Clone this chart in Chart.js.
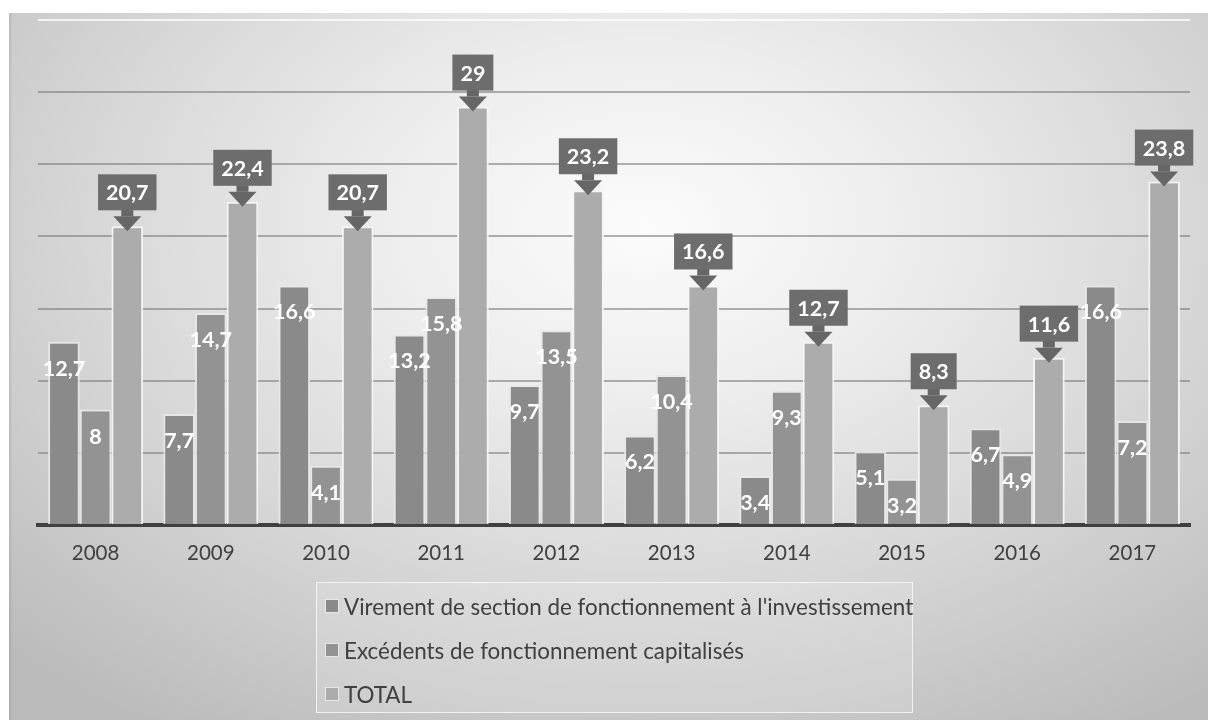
<!DOCTYPE html>
<html lang="fr">
<head>
<meta charset="utf-8">
<title>Financement de l'investissement 2008-2017</title>
<script src="https://cdn.jsdelivr.net/npm/chart.js@4.4.1/dist/chart.umd.min.js"></script>
<style>
    html, body { margin: 0; padding: 0; background: #ffffff; }
    body { width: 1208px; height: 720px; position: relative; overflow: hidden; font-family: Lato, "Open Sans", sans-serif; }
    #frame {
        position: absolute; left: 9px; top: 13px; width: 1199px; height: 707px;
        background: radial-gradient(ellipse 75% 85% at 53% 30%, #fcfcfc 0%, #ededed 30%, #d7d7d7 62%, #bbbbbb 100%);
        box-shadow: inset 3px 0 2px -1px rgba(0,0,0,0.08);
    }
    #chart-wrap { position: absolute; left: 0; top: 0; width: 1208px; height: 720px; }
    #legend {
        position: absolute; left: 316px; top: 582px; width: 597px; height: 131px;
        border: 1px solid rgba(255,255,255,0.7); background: rgba(255,255,255,0.15);
        box-sizing: border-box; padding-left: 8px;
    }
    #legend .item { height: 44px; display: flex; align-items: center; font-family: Lato, sans-serif; font-size: 22.4px; color: #404040; white-space: nowrap; }
    #legend .item:first-child { margin-top: 1px; }
    #legend .swatch { width: 12px; height: 12px; margin-right: 5px; border: 1px solid #e8e8e8; flex: none; }
</style>
</head>
<body>
<div id="frame"></div>
<div id="chart-wrap"><canvas id="chart" width="1208" height="720"></canvas></div>
<div id="legend"></div>

<script>
// Millions d'euros, par exercice
const years     = ["2008", "2009", "2010", "2011", "2012", "2013", "2014", "2015", "2016", "2017"];
const virement  = [12.7, 7.7, 16.6, 13.2, 9.7, 6.2, 3.4, 5.1, 6.7, 16.6];
const excedents = [8, 14.7, 4.1, 15.8, 13.5, 10.4, 9.3, 3.2, 4.9, 7.2];
const totals    = [20.7, 22.4, 20.7, 29, 23.2, 16.6, 12.7, 8.3, 11.6, 23.8];
const seriesNames = [
    "Virement de section de fonctionnement à l'investissement",
    "Excédents de fonctionnement capitalisés",
    "TOTAL"
];
const Y_MAX  = 35;
const Y_STEP = 5;

const COLORS = ["#8a8a8a", "#939393", "#acacac"];
const FONT = "Lato";
const fmtFr = v => String(v).replace(".", ",");

// ── value labels: white text inside bars, callouts above the totals ──
const valueLabels = {
    id: "valueLabels",
    afterDatasetsDraw(chart) {
        const ctx = chart.ctx;
        ctx.save();
        ctx.font = `bold 21.5px ${FONT}`;
        ctx.textAlign = "center";
        ctx.textBaseline = "middle";

        chart.data.datasets.forEach((ds, di) => {
            const meta = chart.getDatasetMeta(di);
            meta.data.forEach((bar, i) => {
                const txt = fmtFr(ds.data[i]);
                if (di < 2) {
                    ctx.fillStyle = "#ffffff";
                    ctx.fillText(txt, bar.x, bar.y + 27);
                    return;
                }
                // callout box with a down arrow to the top of the bar
                const tipY = bar.y + 5;
                const boxW = ctx.measureText(txt).width + 16;
                const boxH = 36;
                const boxBottom = tipY - 21;
                ctx.fillStyle = "#666666";
                ctx.fillRect(bar.x - 6, boxBottom - 1, 12, 7);
                ctx.beginPath();
                ctx.moveTo(bar.x - 14, boxBottom + 6);
                ctx.lineTo(bar.x + 14, boxBottom + 6);
                ctx.lineTo(bar.x, tipY);
                ctx.closePath();
                ctx.fill();
                ctx.fillStyle = "#6d6d6d";
                ctx.fillRect(bar.x - boxW / 2, boxBottom - boxH, boxW, boxH);
                ctx.fillStyle = "#ffffff";
                ctx.fillText(txt, bar.x, boxBottom - boxH / 2 + 1);
            });
        });
        ctx.restore();
    }
};

const chart = new Chart(document.getElementById("chart"), {
    type: "bar",
    data: {
        labels: years,
        datasets: [virement, excedents, totals].map((d, i) => ({
            label: seriesNames[i],
            data: d,
            backgroundColor: COLORS[i],
            borderColor: i === 2 ? "rgba(245,245,245,0.95)" : "rgba(232,232,232,0.9)",
            borderWidth: 2,
            categoryPercentage: 0.825,
            barPercentage: 1
        }))
    },
    options: {
        responsive: false,
        animation: false,
        layout: { padding: { left: 38, right: 18, top: 20, bottom: 0 } },
        plugins: {
            legend: { display: false },
            tooltip: { enabled: false }
        },
        scales: {
            x: {
                grid: { display: false, drawTicks: false },
                border: { display: true, color: "#404040", width: 4 },
                ticks: { color: "#404040", font: { family: FONT, size: 20.5 }, padding: 16 },
                afterFit: s => { s.height = 195; }
            },
            y: {
                min: 0, max: Y_MAX,
                ticks: { display: false, stepSize: Y_STEP },
                border: { display: false },
                grid: {
                    drawTicks: false,
                    lineWidth: 2,
                    color: c => c.tick && c.tick.value === Y_MAX ? "rgba(255,255,255,0.75)" : "rgba(125,125,125,0.6)"
                },
                afterFit: s => { s.width = 0; }
            }
        }
    },
    plugins: [valueLabels]
});

// ── legend, one entry per line ──
document.getElementById("legend").innerHTML = chart.data.datasets.map(ds => `
    <div class="item"><span class="swatch" style="background:${ds.backgroundColor}"></span>${ds.label}</div>`).join("");
</script>
</body>
</html>
